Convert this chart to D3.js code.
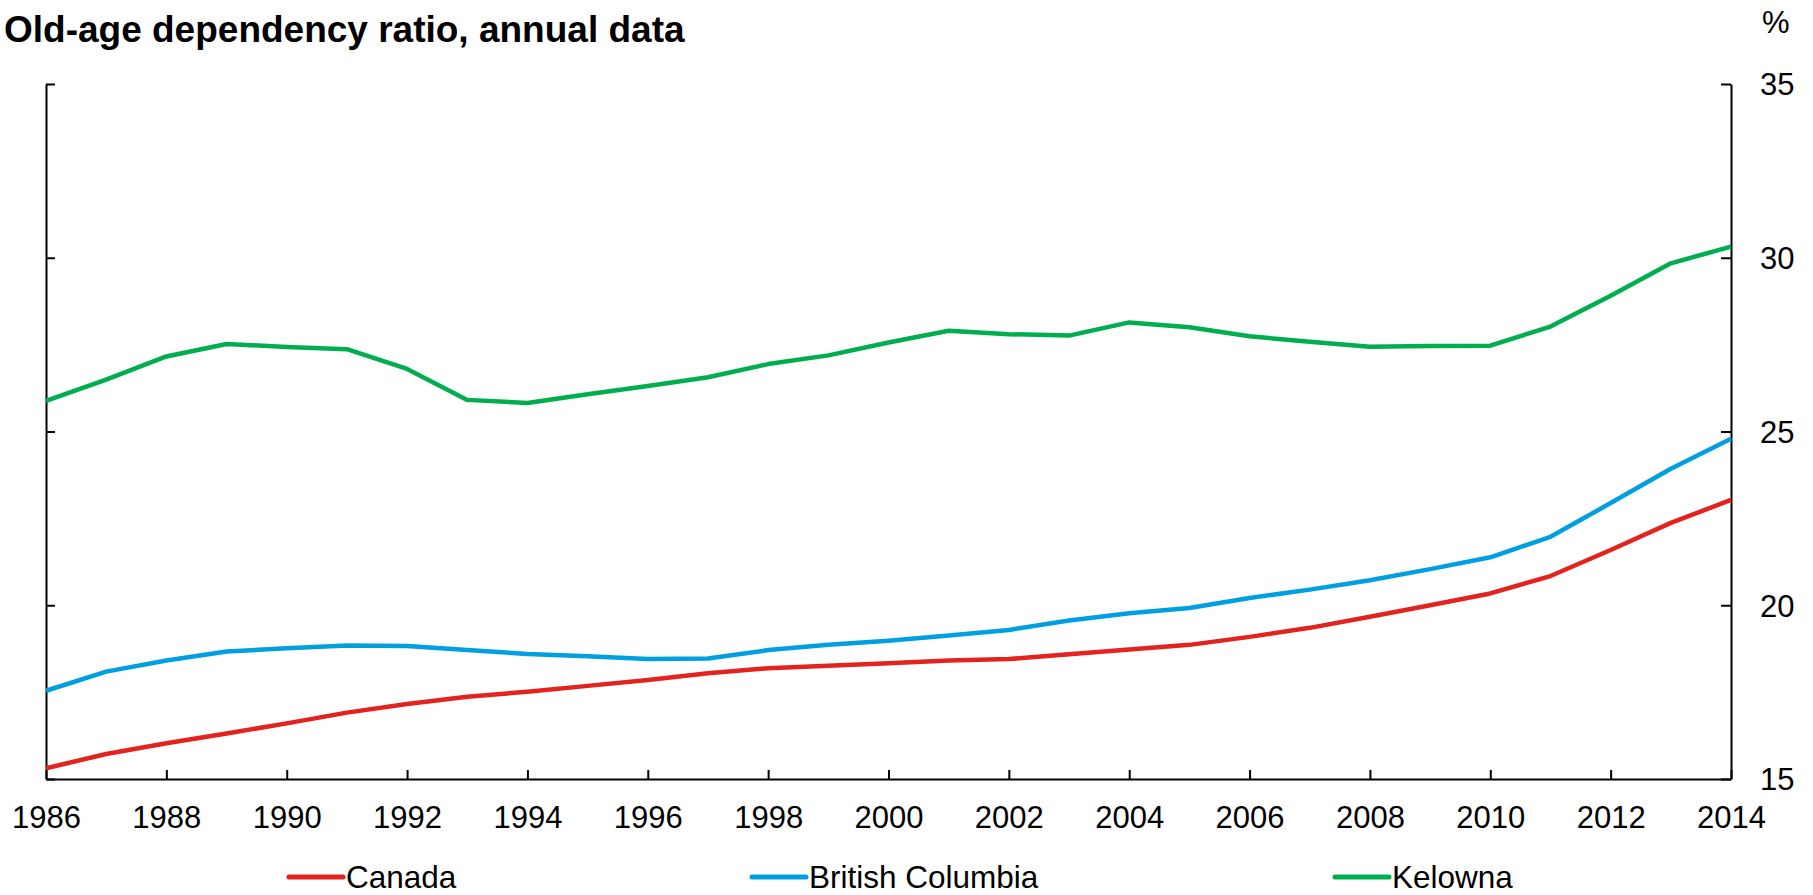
<!DOCTYPE html>
<html>
<head>
<meta charset="utf-8">
<script src="https://cdn.jsdelivr.net/npm/d3@7/dist/d3.min.js"></script>
<style>
  html, body { margin: 0; padding: 0; background: #fff; }
  svg { display: block; font-family: "Liberation Sans", Arial, Helvetica, sans-serif; }
</style>
</head>
<body>
<svg id="chart" width="1813" height="895"></svg>
<script>
// Old-age dependency ratio (%), annual, 1986–2014
const years = [1986, 1987, 1988, 1989, 1990, 1991, 1992, 1993, 1994, 1995,
               1996, 1997, 1998, 1999, 2000, 2001, 2002, 2003, 2004, 2005,
               2006, 2007, 2008, 2009, 2010, 2011, 2012, 2013, 2014];

const canada = [15.31, 15.72, 16.03, 16.31, 16.60, 16.91, 17.16, 17.37, 17.51, 17.68,
                17.85, 18.04, 18.19, 18.26, 18.33, 18.41, 18.45, 18.59, 18.73, 18.86,
                19.09, 19.35, 19.67, 20.00, 20.34, 20.84, 21.59, 22.37, 23.03];

const britishColumbia = [17.54, 18.09, 18.41, 18.67, 18.76, 18.84, 18.83, 18.71, 18.60, 18.53,
                         18.45, 18.47, 18.71, 18.86, 18.98, 19.13, 19.29, 19.56, 19.77, 19.92,
                         20.21, 20.45, 20.72, 21.04, 21.38, 21.97, 22.94, 23.93, 24.79];

const kelowna = [25.88, 26.49, 27.16, 27.52, 27.43, 27.37, 26.80, 25.91, 25.82, 26.07,
                 26.31, 26.56, 26.94, 27.19, 27.56, 27.90, 27.80, 27.76, 28.14, 28.00,
                 27.74, 27.58, 27.44, 27.46, 27.47, 28.02, 28.91, 29.84, 30.32];

const seriesNames = ["Canada", "British Columbia", "Kelowna"];
const xTickValues = [1986, 1988, 1990, 1992, 1994, 1996, 1998, 2000, 2002, 2004, 2006, 2008, 2010, 2012, 2014];
const yTickValues = [15, 20, 25, 30, 35];

const titleText = "Old-age dependency ratio, annual data";
const unitText = "%";

const colors = { "Canada": "#e2231e", "British Columbia": "#009fe0", "Kelowna": "#00ae4f" };
const seriesValues = { "Canada": canada, "British Columbia": britishColumbia, "Kelowna": kelowna };

const svg = d3.select("#chart");
const plot = { left: 46, right: 1731, top: 84, bottom: 779 };

const x = d3.scaleLinear().domain([1986, 2014]).range([plot.left, plot.right]);
const y = d3.scaleLinear().domain([15, 35]).range([plot.bottom, plot.top]);

const axisFont = 31;
const legendFont = 31.5;

// Title and unit label
svg.append("text")
  .attr("x", 4).attr("y", 42)
  .attr("font-size", 37).attr("font-weight", "bold").attr("fill", "#000")
  .text(titleText);

svg.append("text")
  .attr("x", 1762).attr("y", 33)
  .attr("font-size", axisFont).attr("fill", "#000")
  .text(unitText);

// Bottom axis: ticks point up into the plot, labels below
const xAxis = d3.axisBottom(x)
  .tickValues(xTickValues)
  .tickFormat(d3.format("d"))
  .tickSizeInner(-9).tickSizeOuter(0).tickPadding(27);
const gx = svg.append("g")
  .attr("transform", `translate(0,${plot.bottom})`)
  .call(xAxis);
gx.select(".domain").attr("stroke", "#000").attr("stroke-width", 2);
gx.selectAll(".tick line").attr("stroke", "#000").attr("stroke-width", 2);
gx.selectAll(".tick text").attr("font-size", axisFont).attr("fill", "#000")
  .attr("font-family", "Liberation Sans, Arial, sans-serif");

// Left axis: inward ticks, no labels
const yLeft = d3.axisLeft(y)
  .tickValues(yTickValues)
  .tickFormat("")
  .tickSizeInner(-9).tickSizeOuter(0);
const gl = svg.append("g")
  .attr("transform", `translate(${plot.left},0)`)
  .call(yLeft);
gl.select(".domain").attr("stroke", "#000").attr("stroke-width", 2);
gl.selectAll(".tick line").attr("stroke", "#000").attr("stroke-width", 2);

// Right axis: inward ticks with value labels
const yRight = d3.axisRight(y)
  .tickValues(yTickValues)
  .tickFormat(d3.format("d"))
  .tickSizeInner(-10).tickSizeOuter(0).tickPadding(29);
const gr = svg.append("g")
  .attr("transform", `translate(${plot.right},0)`)
  .call(yRight);
gr.select(".domain").attr("stroke", "#000").attr("stroke-width", 2);
gr.selectAll(".tick line").attr("stroke", "#000").attr("stroke-width", 2);
gr.selectAll(".tick text").attr("font-size", axisFont).attr("fill", "#000")
  .attr("font-family", "Liberation Sans, Arial, sans-serif")
  .attr("dy", "0.35em");

// Series lines
const line = d3.line()
  .x(d => x(d.year))
  .y(d => y(d.value));

const plotArea = svg.append("g");
seriesNames.forEach(name => {
  const pts = years.map((yr, i) => ({ year: yr, value: seriesValues[name][i] }));
  plotArea.append("path")
    .datum(pts)
    .attr("fill", "none")
    .attr("stroke", colors[name])
    .attr("stroke-width", 4.5)
    .attr("stroke-linejoin", "round")
    .attr("d", line);
});

// Legend
const legendItems = [
  { name: "Canada", x0: 289 },
  { name: "British Columbia", x0: 752 },
  { name: "Kelowna", x0: 1335 }
];
const legendY = 877;
const lg = svg.append("g");
legendItems.forEach(item => {
  lg.append("line")
    .attr("x1", item.x0).attr("x2", item.x0 + 54)
    .attr("y1", legendY).attr("y2", legendY)
    .attr("stroke", colors[item.name]).attr("stroke-width", 5)
    .attr("stroke-linecap", "round");
  lg.append("text")
    .attr("x", item.x0 + 57).attr("y", legendY)
    .attr("dy", "0.35em")
    .attr("font-size", legendFont).attr("fill", "#000")
    .text(item.name);
});
</script>
</body>
</html>
